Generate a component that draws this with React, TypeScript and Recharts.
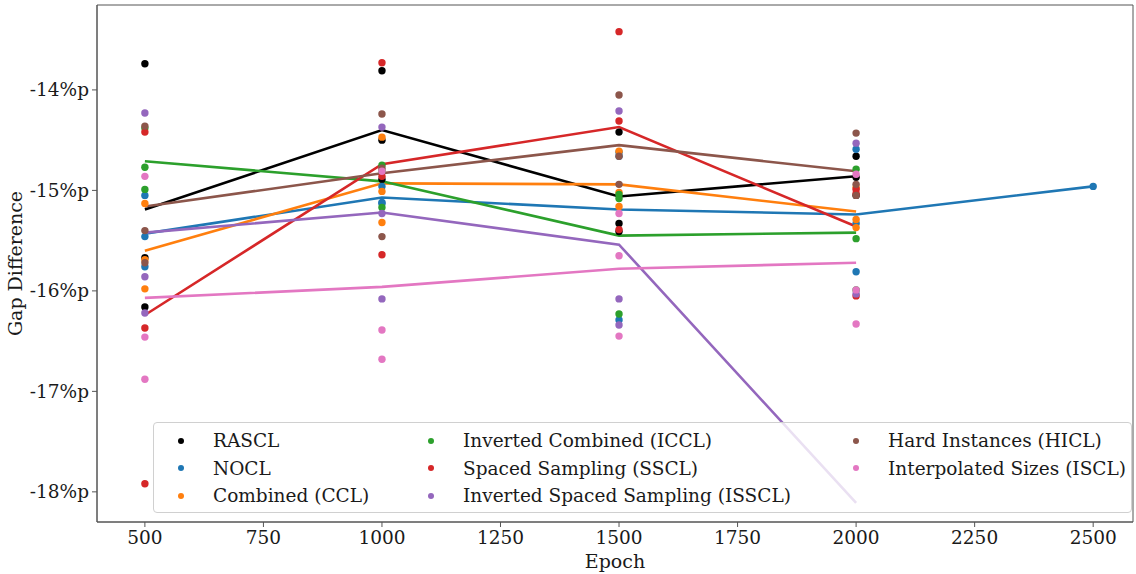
import {
  ComposedChart,
  Line,
  ReferenceArea,
  Scatter,
  XAxis,
  YAxis,
} from 'recharts'

const epochs = [500, 1000, 1500, 2000, 2500]
const xTicks = [500, 750, 1000, 1250, 1500, 1750, 2000, 2250, 2500]
const yTicks = [-18, -17, -16, -15, -14]
const X_DOMAIN: [number, number] = [399, 2584]
const Y_DOMAIN: [number, number] = [-18.3, -13.155]

const methods = ['RASCL', 'NOCL', 'CCL', 'ICCL', 'SSCL', 'ISSCL', 'HICL', 'ISCL']
const labels = [
  'RASCL',
  'NOCL',
  'Combined (CCL)',
  'Inverted Combined (ICCL)',
  'Spaced Sampling (SSCL)',
  'Inverted Spaced Sampling (ISSCL)',
  'Hard Instances (HICL)',
  'Interpolated Sizes (ISCL)',
]
const colors = ['#000000', '#1f77b4', '#ff7f0e', '#2ca02c', '#d62728', '#9467bd', '#8c564b', '#e377c2']

// mean gap difference per epoch (the lines)
const rasclMean = [-15.19, -14.4, -15.06, -14.86]
const noclMean = [-15.43, -15.07, -15.19, -15.24, -14.96]
const cclMean = [-15.6, -14.93, -14.94, -15.21]
const icclMean = [-14.71, -14.91, -15.45, -15.42]
const ssclMean = [-16.24, -14.74, -14.37, -15.36]
const issclMean = [-15.42, -15.22, -15.54, -18.11]
const hiclMean = [-15.16, -14.83, -14.55, -14.81]
const isclMean = [-16.07, -15.96, -15.78, -15.72]

// individual runs per epoch (the dots)
const rasclRuns = [[-13.74, -15.67, -16.16], [-13.81, -14.5, -14.89], [-14.42, -15.33, -15.41], [-14.66, -14.87, -15.05]]
const noclRuns = [[-15.05, -15.46, -15.76], [-14.96, -15.12, -15.13], [-14.62, -14.66, -16.29], [-14.59, -15.33, -15.81], [-14.96]]
const cclRuns = [[-15.13, -15.69, -15.98], [-14.47, -15.01, -15.32], [-14.61, -15.02, -15.16], [-14.97, -15.29, -15.37]]
const icclRuns = [[-14.38, -14.77, -14.99], [-14.75, -14.81, -15.17], [-15.04, -15.08, -16.23], [-14.79, -15.48, -15.99]]
const ssclRuns = [[-14.42, -16.37, -17.92], [-13.73, -14.86, -15.64], [-13.42, -14.31, -15.39], [-14.99, -15.03, -16.05]]
const issclRuns = [[-14.23, -15.86, -16.22], [-14.37, -15.23, -16.08], [-14.21, -16.08, -16.34], [-14.53, -16.03]]
const hiclRuns = [[-14.36, -15.4, -15.72], [-14.24, -14.78, -15.46], [-14.05, -14.66, -14.94], [-14.43, -14.94, -15.05]]
const isclRuns = [[-14.86, -16.46, -16.88], [-14.81, -16.39, -16.68], [-15.23, -15.65, -16.45], [-14.84, -15.99, -16.33]]

const means = [rasclMean, noclMean, cclMean, icclMean, ssclMean, issclMean, hiclMean, isclMean]
const runs = [rasclRuns, noclRuns, cclRuns, icclRuns, ssclRuns, issclRuns, hiclRuns, isclRuns]

const FONT = '"DejaVu Serif", serif'
const TEXT = '#1a1a1a'
const FRAME = '#555'

const lineData = means.map((m) => m.map((y, i) => ({ x: epochs[i], y })))
const dotData = runs.map((r) => r.flatMap((vals, i) => vals.map((y) => ({ x: epochs[i], y }))))

function LegendBox() {
  const cols = [[0, 1, 2], [3, 4, 5], [6, 7]]
  const colLeft = [0, 250, 675]
  return (
    <div
      style={{
        position: 'absolute',
        left: 153,
        top: 422,
        width: 977,
        height: 89,
        border: '1px solid #d0d0d0',
        borderRadius: 4,
        background: 'rgba(255,255,255,0.8)',
        fontFamily: FONT,
        fontSize: 18.5,
        color: TEXT,
      }}
    >
      {cols.map((col, ci) =>
        col.map((mi, ri) => (
          <div
            key={methods[mi]}
            style={{
              position: 'absolute',
              left: colLeft[ci] + 24,
              top: 4 + ri * 27.5,
              height: 27,
              display: 'flex',
              alignItems: 'center',
              whiteSpace: 'nowrap',
            }}
          >
            <span
              style={{
                display: 'inline-block',
                width: 6,
                height: 6,
                borderRadius: 3,
                background: colors[mi],
                marginRight: 29,
              }}
            />
            {labels[mi]}
          </div>
        )),
      )}
    </div>
  )
}

export default function App() {
  return (
    <div style={{ position: 'fixed', left: 0, top: 0, width: 1136, height: 574, background: '#fff' }}>
      <ComposedChart width={1136} height={574} margin={{ top: 5, right: 3, left: 0, bottom: 0 }}>
        <XAxis
          type="number"
          dataKey="x"
          domain={X_DOMAIN}
          allowDataOverflow
          ticks={xTicks}
          height={52}
          tickSize={5}
          tickMargin={4}
          stroke={FRAME}
          tick={{ fontSize: 18.5, fontFamily: FONT, fill: TEXT }}
          label={{ value: 'Epoch', position: 'insideBottom', offset: 6, fontSize: 19, fontFamily: FONT, fill: TEXT }}
        />
        <YAxis
          type="number"
          dataKey="y"
          domain={Y_DOMAIN}
          allowDataOverflow
          ticks={yTicks}
          width={97}
          tickSize={5}
          tickMargin={3}
          stroke={FRAME}
          tickFormatter={(v: number) => `${v}%p`}
          tick={{ fontSize: 18.5, fontFamily: FONT, fill: TEXT }}
          label={{
            value: 'Gap Difference',
            angle: -90,
            position: 'insideLeft',
            offset: 15,
            style: { textAnchor: 'middle' },
            fontSize: 19,
            fontFamily: FONT,
            fill: TEXT,
          }}
        />
        <ReferenceArea
          x1={X_DOMAIN[0]}
          x2={X_DOMAIN[1]}
          y1={Y_DOMAIN[0]}
          y2={Y_DOMAIN[1]}
          fill="none"
          stroke={FRAME}
          strokeWidth={1}
        />
        {dotData.map((d, i) => (
          <Scatter
            key={'s' + methods[i]}
            name={labels[i]}
            data={d}
            fill={colors[i]}
            isAnimationActive={false}
            shape={(p: any) => <circle cx={p.cx} cy={p.cy} r={3.7} fill={colors[i]} />}
          />
        ))}
        {lineData.map((d, i) => (
          <Line
            key={'l' + methods[i]}
            data={d}
            dataKey="y"
            type="linear"
            stroke={colors[i]}
            strokeWidth={2.6}
            dot={false}
            activeDot={false}
            legendType="none"
            isAnimationActive={false}
          />
        ))}
      </ComposedChart>
      <LegendBox />
    </div>
  )
}
